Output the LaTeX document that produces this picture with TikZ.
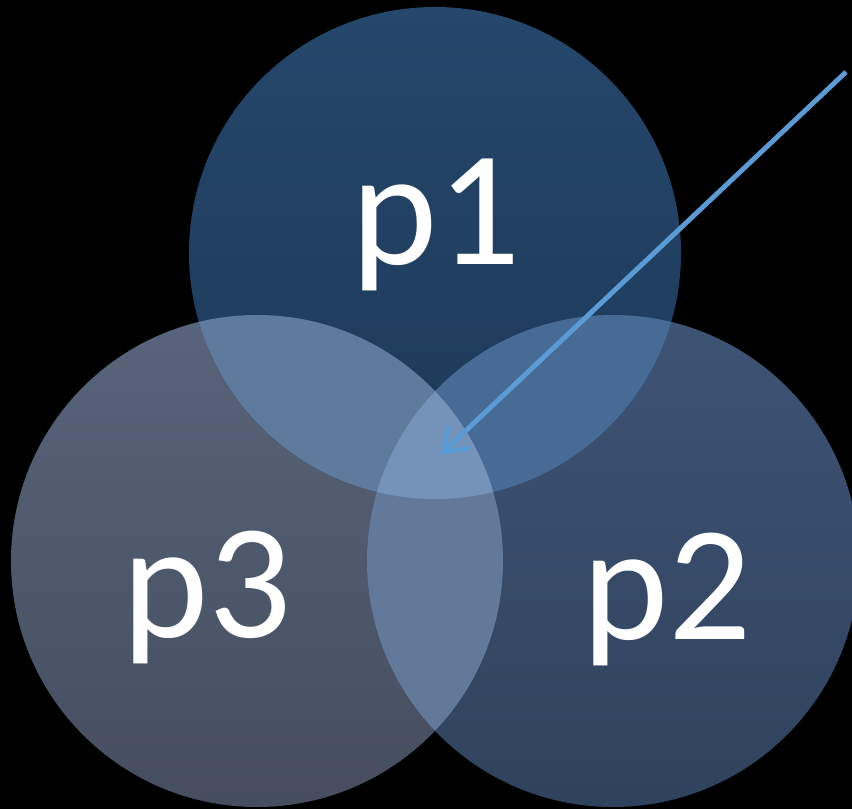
\documentclass[tikz,border=0pt]{standalone}
\usepackage{fontspec}
\setmainfont{Carlito}
\usetikzlibrary{arrows.meta}

% fills of the three sets and of their overlaps
\definecolor{oneTop}{HTML}{25476B}
\definecolor{oneBot}{HTML}{1D3858}
\definecolor{twoTop}{HTML}{3E5475}
\definecolor{twoBot}{HTML}{2F425D}
\definecolor{threeTop}{HTML}{58647B}
\definecolor{threeBot}{HTML}{454D5E}
\definecolor{oneThree}{HTML}{5E7A9C}
\definecolor{oneTwo}{HTML}{476B95}
\definecolor{twoThree}{HTML}{63799A}
\definecolor{allThree}{HTML}{7592B8}
\definecolor{pointerBlue}{HTML}{5B9BD5}

\begin{document}
\begin{tikzpicture}[x=0.03cm,y=0.03cm]
	\tikzset{
		setname/.style={
			text=white, anchor=base, inner sep=0pt,
			font=\fontsize{140}{142}\selectfont
		},
		pointer/.style={
			draw=pointerBlue, line width=4.2pt,
			-{Straight Barb[length=0.65cm,width=0.9cm]}
		}
	}
	\useasboundingbox (0,0) rectangle (852,809);
	\fill[black] (0,0) rectangle (852,809);
	\clip (0,0) rectangle (852,809);
	
	% the three sets
	\path[top color=threeTop, bottom color=threeBot] (257,248) circle (246);
	\path[top color=twoTop, bottom color=twoBot] (613,248) circle (246);
	\path[top color=oneTop, bottom color=oneBot] (435,556) circle (246);
	
	% overlaps with p1
	\begin{scope}
		\clip (435,556) circle (246);
		\fill[oneThree] (257,248) circle (246);
		\fill[oneTwo] (613,248) circle (246);
	\end{scope}
	
	% overlap of p2 and p3, and the middle
	\begin{scope}
		\clip (257,248) circle (246);
		\fill[twoThree] (613,248) circle (246);
		\clip (435,556) circle (246);
		\fill[allThree] (613,248) circle (246);
	\end{scope}
	
	% names
	\node[setname] (p1) at (436,544) {p1};
	\node[setname] (p2) at (667,170) {p2};
	\node[setname] (p3) at (207,172) {p3};
	
	% arrow into the middle
	\coordinate (tail) at (846,737);
	\coordinate (core) at (440,354);
	\draw[pointer] (tail) -- (core);
\end{tikzpicture}
\end{document}
